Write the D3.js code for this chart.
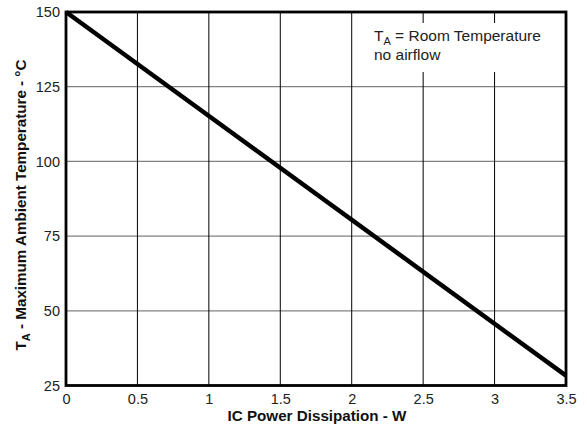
<!DOCTYPE html>
<html><head><meta charset="utf-8">
<script src="https://cdn.jsdelivr.net/npm/d3@7"></script>
<style>body{margin:0;background:#fff}svg{display:block}text{font-family:"Liberation Sans",Arial,sans-serif}</style>
</head><body><svg id="c" width="587" height="426"></svg>
<script>
const xTicks = [0, 0.5, 1, 1.5, 2, 2.5, 3, 3.5];
const yTicks = [25, 50, 75, 100, 125, 150];
const powerW = [0, 3.5];
const maxTempC = [150, 28.3];

const svg = d3.select("#c");
const L = 66, R = 566, T = 12, B = 385.5;
const x = d3.scaleLinear().domain([0, 3.5]).range([L, R]);
const y = d3.scaleLinear().domain([25, 150]).range([B, T]);
const FF = '"Liberation Sans",Arial,sans-serif';

// horizontal grid (gray)
svg.append("g").selectAll("line").data(yTicks.slice(1, -1)).join("line")
  .attr("x1", L).attr("x2", R).attr("y1", d => y(d)).attr("y2", d => y(d))
  .attr("stroke", "#808080").attr("stroke-width", 1.2);
// vertical grid (black)
svg.append("g").selectAll("line").data(xTicks.slice(1, -1)).join("line")
  .attr("x1", d => x(d)).attr("x2", d => x(d)).attr("y1", T).attr("y2", B)
  .attr("stroke", "#000").attr("stroke-width", 1);

// annotation box background
svg.append("rect").attr("x", 362).attr("y", 23).attr("width", 196).attr("height", 49).attr("fill", "#fff");
const ann = svg.append("text").attr("x", 374).attr("y", 41).attr("font-size", 15.5).attr("fill", "#222");
ann.append("tspan").text("T");
ann.append("tspan").attr("font-size", 11).attr("dy", 4).text("A");
ann.append("tspan").attr("dy", -4).text(" = Room Temperature");
svg.append("text").attr("x", 374).attr("y", 60).attr("font-size", 15.5).attr("fill", "#222").text("no airflow");

// data line
const pts = powerW.map((p, i) => [p, maxTempC[i]]);
svg.append("path").datum(pts)
  .attr("d", d3.line().x(d => x(d[0])).y(d => y(d[1])))
  .attr("fill", "none").attr("stroke", "#000").attr("stroke-width", 4.5);

// frame
svg.append("rect").attr("x", L).attr("y", T).attr("width", R - L).attr("height", B - T)
  .attr("fill", "none").attr("stroke", "#000").attr("stroke-width", 2.8);

// axes
const xa = svg.append("g").attr("transform", `translate(0,${B})`)
  .call(d3.axisBottom(x).tickValues(xTicks).tickSize(0).tickPadding(8).tickFormat(d3.format("")));
xa.select(".domain").remove();
xa.selectAll("text").attr("font-size", 14.5).attr("fill", "#222").style("font-family", FF);
const ya = svg.append("g").attr("transform", `translate(${L},0)`)
  .call(d3.axisLeft(y).tickValues(yTicks).tickSize(0).tickPadding(6));
ya.select(".domain").remove();
ya.selectAll("text").attr("font-size", 14.5).attr("fill", "#222").style("font-family", FF);

// axis titles
svg.append("text").attr("x", 317).attr("y", 421).attr("text-anchor", "middle")
  .attr("font-size", 15.2).attr("font-weight", "bold").attr("fill", "#111").text("IC Power Dissipation - W");
const yt = svg.append("text").attr("transform", "translate(26,205) rotate(-90)").attr("text-anchor", "middle")
  .attr("font-size", 15.2).attr("font-weight", "bold").attr("fill", "#111");
yt.append("tspan").text("T");
yt.append("tspan").attr("font-size", 11).attr("dy", 4).text("A");
yt.append("tspan").attr("dy", -4).text(" - Maximum Ambient Temperature - °C");
</script></body></html>
